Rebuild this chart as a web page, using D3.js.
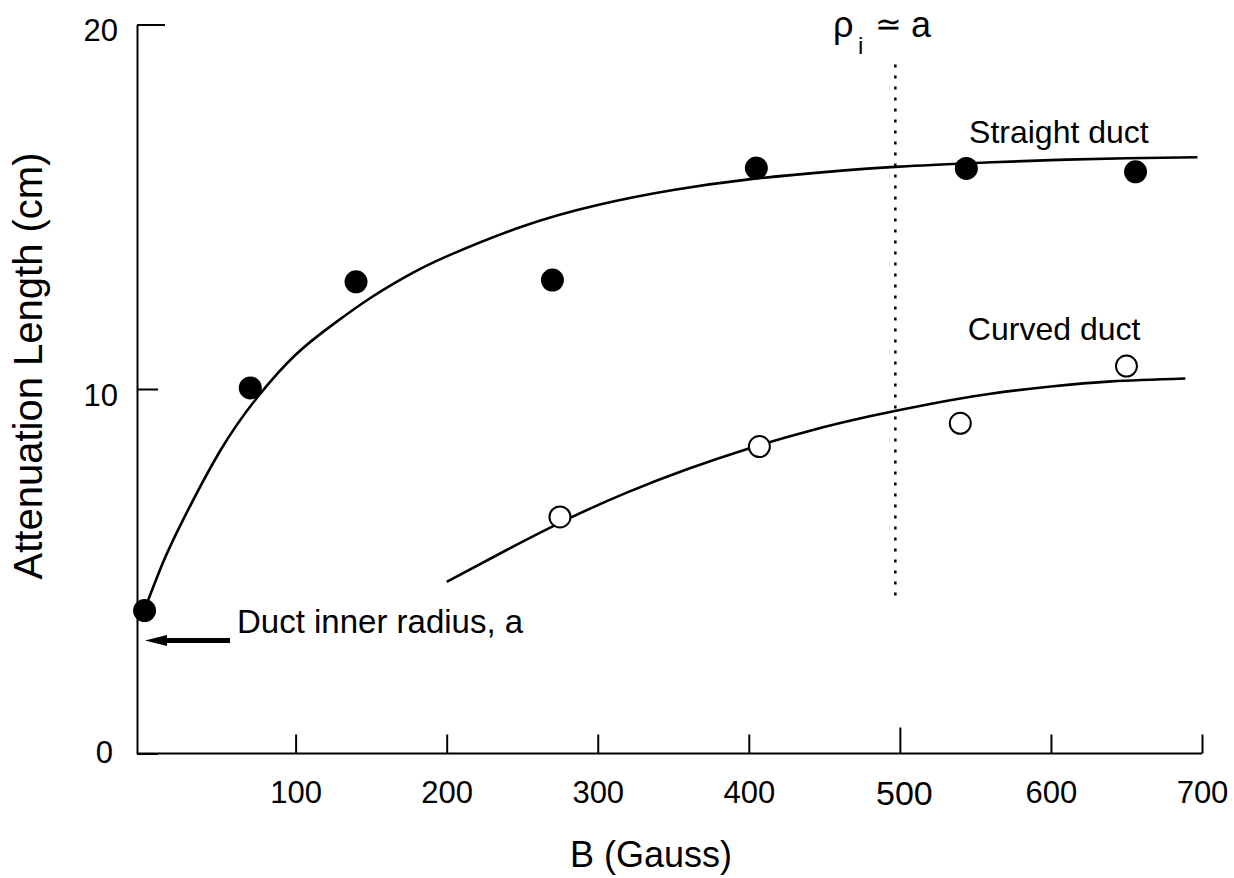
<!doctype html>
<html>
<head>
<meta charset="utf-8">
<title>Attenuation length vs B</title>
<style>
body { margin: 0; background: #fff; }
svg { font-family: "Liberation Sans", Arial, Helvetica, sans-serif; }
.axis path, .axis line { stroke: #000; stroke-width: 2px; }
.axis text { font-size: 31px; fill: #000; font-family: "Liberation Sans", Arial, sans-serif; }
.fit { fill: none; stroke: #000; stroke-width: 2.6px; }
.lbl { font-size: 32px; fill: #000; }
</style>
</head>
<body>
<svg width="1234" height="878"></svg>
<script src="https://cdn.jsdelivr.net/npm/d3@7"></script>
<script>
// measured points (B in gauss, length in cm)
var straightB = [0, 70, 140, 270, 405, 544, 656];
var straightL = [3.92, 10.03, 12.94, 12.99, 16.06, 16.05, 15.96];
var curvedB = [275, 407, 540, 650];
var curvedL = [6.49, 8.42, 9.06, 10.63];

// fitted curves
var straightFitB = [0, 12, 25, 50, 75, 100, 125, 150, 175, 200, 250, 300, 350, 400, 450, 500, 550, 600, 650, 697];
var straightFitL = [3.95, 5.22, 6.37, 8.30, 9.79, 10.94, 11.78, 12.51, 13.13, 13.64, 14.46, 15.05, 15.46, 15.75, 15.95, 16.10, 16.20, 16.28, 16.33, 16.36];
var curvedFitB = [200, 240, 280, 320, 360, 400, 440, 480, 520, 560, 600, 640, 689];
var curvedFitL = [4.71, 5.59, 6.43, 7.17, 7.81, 8.37, 8.85, 9.25, 9.59, 9.87, 10.07, 10.21, 10.29];

var xTicks = [100, 200, 300, 400, 500, 600, 700];
var yTicks = [0, 10, 20];

// rho_i ~ a marker and duct radius arrow
var rhoB = 497, rhoRange = [4.3, 18.9];
var radiusA = 3.1;

var svg = d3.select("svg");

var x = d3.scaleLinear().domain([-5, 700]).range([137, 1202]);
var y = d3.scaleLinear().domain([0, 20]).range([753.5, 24.5]);

// x axis, ticks pointing inward
var xAxisG = svg.append("g")
    .attr("class", "axis")
    .attr("transform", "translate(0," + y(0) + ")")
    .call(d3.axisBottom(x).tickValues(xTicks).tickSizeInner(-19).tickSizeOuter(0).tickPadding(27));
xAxisG.select(".domain").attr("d", "M" + x(-5) + ",0H" + x(700));
xAxisG.selectAll(".tick text").attr("dy", "0.71em");
xAxisG.selectAll(".tick").filter(function(d) { return d === 500; })
    .call(function(t) {
        t.select("line").attr("y2", -26);
        t.select("text").style("font-size", "34px").attr("x", 4);
    });

// y axis
var yAxisG = svg.append("g")
    .attr("class", "axis")
    .attr("transform", "translate(" + x(-5) + ",0)")
    .call(d3.axisLeft(y).tickValues(yTicks).tickSizeInner(-21).tickSizeOuter(0).tickPadding(19));
yAxisG.selectAll(".tick text").attr("dy", "0.52em");
yAxisG.selectAll(".tick").filter(function(d) { return d === 20; }).select("line").attr("x2", 28);
yAxisG.selectAll(".tick").filter(function(d) { return d === 0; }).select("text").attr("dy", "0.3em").attr("x", -24);

// axis titles
svg.append("text")
    .attr("x", 651).attr("y", 867)
    .attr("text-anchor", "middle")
    .style("font-size", "36px")
    .text("B (Gauss)");

svg.append("text")
    .attr("transform", "translate(42,366) rotate(-90)")
    .attr("text-anchor", "middle")
    .style("font-size", "40px")
    .text("Attenuation Length (cm)");

// rho_i ~ a dotted line
svg.append("line")
    .attr("x1", x(rhoB)).attr("x2", x(rhoB))
    .attr("y1", y(rhoRange[1])).attr("y2", y(rhoRange[0]))
    .attr("stroke", "#000")
    .attr("stroke-width", 2.5)
    .attr("stroke-dasharray", "3,8");

var rx = x(455.7), ry = y(19.66);
var rho = svg.append("text").style("font-size", "36px");
rho.append("tspan").attr("x", rx).attr("y", ry).text("ρ");
rho.append("tspan").attr("x", rx + 25).attr("y", ry + 17).style("font-size", "24px").text("i");
rho.append("tspan").attr("x", rx + 42).attr("y", ry - 2).style("font-size", "32px").text("≃");
rho.append("tspan").attr("x", rx + 78).attr("y", ry).text("a");

// fitted curves
var line = d3.line()
    .x(function(d) { return x(d[0]); })
    .y(function(d) { return y(d[1]); })
    .curve(d3.curveNatural);

svg.append("path")
    .attr("class", "fit")
    .attr("d", line(d3.zip(straightFitB, straightFitL)));

svg.append("path")
    .attr("class", "fit")
    .attr("d", line(d3.zip(curvedFitB, curvedFitL)));

// data points
svg.selectAll(".straight")
    .data(d3.zip(straightB, straightL))
    .enter().append("circle")
    .attr("class", "straight")
    .attr("cx", function(d) { return x(d[0]); })
    .attr("cy", function(d) { return y(d[1]); })
    .attr("r", 11.5)
    .attr("fill", "#000");

svg.selectAll(".curved")
    .data(d3.zip(curvedB, curvedL))
    .enter().append("circle")
    .attr("class", "curved")
    .attr("cx", function(d) { return x(d[0]); })
    .attr("cy", function(d) { return y(d[1]); })
    .attr("r", 10.5)
    .attr("fill", "#fff")
    .attr("stroke", "#000")
    .attr("stroke-width", 2);

// labels
svg.append("text").attr("class", "lbl")
    .attr("x", x(545.8)).attr("y", y(16.75))
    .text("Straight duct");

svg.append("text").attr("class", "lbl")
    .attr("x", x(545)).attr("y", y(11.34))
    .text("Curved duct");

svg.append("text").attr("class", "lbl")
    .attr("x", x(61.2)).attr("y", y(3.3))
    .style("font-size", "33px")
    .text("Duct inner radius, a");

// arrow to the axis
var ay = y(radiusA), tip = x(0.3), tail = x(56.6);
svg.append("line")
    .attr("x1", tip + 14).attr("x2", tail)
    .attr("y1", ay).attr("y2", ay)
    .attr("stroke", "#000")
    .attr("stroke-width", 5);
svg.append("path")
    .attr("d", "M" + tip + "," + ay + "L" + (tip + 22) + "," + (ay - 5.5) + "L" + (tip + 22) + "," + (ay + 5.5) + "Z")
    .attr("fill", "#000");
</script>
</body>
</html>
